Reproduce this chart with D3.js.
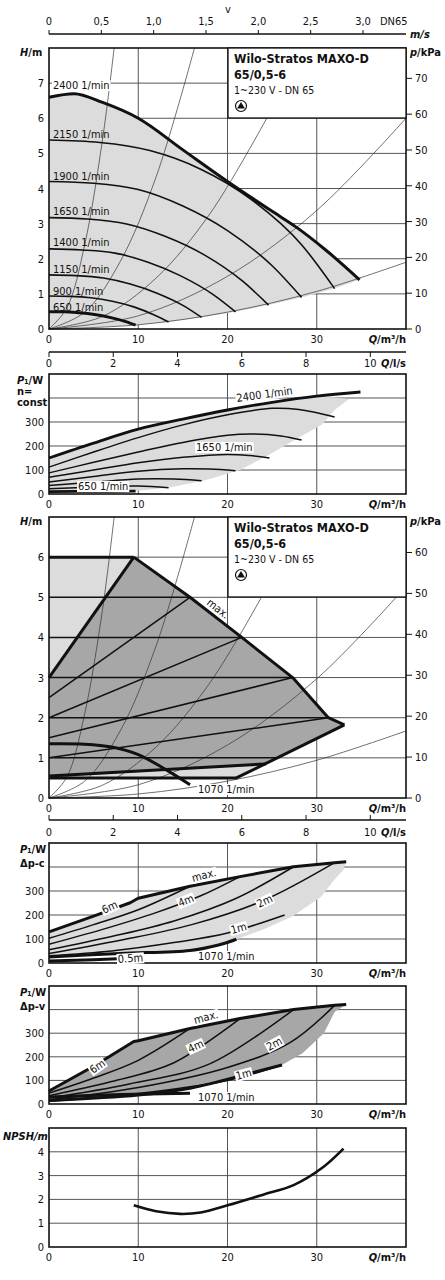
<!DOCTYPE html>
<html><head><meta charset="utf-8">
<script src="https://cdn.jsdelivr.net/npm/d3@7/dist/d3.min.js"></script>
<style>
body{margin:0;background:#fff}
text{font-family:"DejaVu Sans Condensed","Liberation Sans Narrow","Open Sans",sans-serif;font-size:11px;fill:#111}
.b{font-weight:bold}
</style></head><body>
<svg id="c" width="445" height="1280"></svg>
<script>
// ---- data ----
var qTicks = [0, 10, 20, 30];
var vTicks = ["0", "0,5", "1,0", "1,5", "2,0", "2,5", "3,0"];
var lsTicks = [0, 2, 4, 6, 8, 10];

// panel 1: H over Q per speed
var speedLabels = ["2400 1/min", "2150 1/min", "1900 1/min", "1650 1/min", "1400 1/min", "1150 1/min", "900 1/min", "650 1/min"];
var hCurves = [
  [[0,6.6],[2.8,6.7],[6,6.45],[10,6.0],[15,5.1],[20,4.2],[25,3.35],[27.7,2.9],[31,2.25],[34.8,1.4]],
  [[0,5.38],[5.7,5.31],[11.3,5.08],[17,4.55],[22.6,3.7],[28.3,2.4],[32.0,1.15]],
  [[0,4.2],[5,4.15],[10,3.97],[15,3.5],[20,2.8],[25,1.8],[28.3,0.9]],
  [[0,3.17],[4.3,3.13],[8.7,2.99],[13,2.64],[17.4,2.11],[21.7,1.36],[24.6,0.68]],
  [[0,2.28],[3.7,2.25],[7.4,2.16],[11.1,1.9],[14.7,1.52],[18.4,0.98],[20.9,0.49]],
  [[0,1.54],[3,1.52],[6.1,1.45],[9.1,1.28],[12.1,1.02],[15.1,0.66],[17.1,0.33]],
  [[0,0.94],[2.4,0.93],[4.7,0.89],[7.1,0.79],[9.5,0.63],[11.8,0.4],[13.4,0.2]],
  [[0,0.49],[1.7,0.49],[3.4,0.46],[5.1,0.41],[6.8,0.33],[8.6,0.21],[9.7,0.11]]
];
var hLowerEdge = [[0,0],[9.7,0.11],[13.4,0.2],[17.1,0.33],[20.9,0.49],[24.6,0.68],[28.3,0.9],[32,1.15],[34.8,1.4]];
var sys1 = [
  [[0,0],[2,0.6],[4,2.4],[6,5.4],[7.3,8]],
  [[0,0],[4,0.48],[8,1.93],[12,4.33],[16.3,8]],
  [[0,0],[6,0.36],[12,1.45],[18,3.27],[24.4,6]],
  [[0,0],[10,0.375],[20,1.5],[30,3.375],[40,6]],
  [[0,0],[10,0.12],[20,0.48],[30,1.07],[40,1.9]]
];

// panel 2: P1 at n = const
var pCurves = [
  [[0,150],[5,212],[10,270],[15,312],[20,350],[25,382],[30,408],[34.9,425]],
  [[0,112],[5,175],[10,235],[15,288],[20,330],[25,357],[28,352],[32,321]],
  [[0,88],[5,132],[10,175],[15,215],[20,245],[23,250],[26,242],[28.3,225]],
  [[0,70],[5,100],[10,130],[15,153],[20,165],[22.5,160],[24.7,150]],
  [[0,50],[5,73],[10,95],[15,105],[18,104],[20.9,97]],
  [[0,35],[5,49],[10,62],[14,62],[17.1,55]],
  [[0,22],[5,29],[10,33],[13.4,26]],
  [[0,10],[5,11],[9.7,12]]
];
var pFillEdge = [[33.6,396],[32,350],[30.6,290],[28,235],[24.5,160],[21.4,100],[17.3,55],[13.5,27],[9.7,12],[0,5]];

// panel 3: control modes
var ctrlDark = [[0,3],[9.5,6],[15.8,5],[21.6,4],[27.3,3],[31.3,2],[33.1,1.82],[24.3,0.85],[0,0.5]];
var ctrlLightA = [[0,6],[9.5,6],[0,3]];
var ctrlLightB = [[0,0.5],[21,0.5],[24.3,0.85]];
var maxLine = [[9.5,6],[15.8,5],[21.6,4],[27.3,3],[31.3,2],[33.1,1.82]];
var dpvLines = [[[0,2.5],[15.8,5]],[[0,2],[21.6,4]],[[0,1.5],[27.3,3]],[[0,1],[31.3,2]]];
var dpcLines = [[[0,5],[15.8,5]],[[0,4],[21.6,4]],[[0,3],[27.3,3]],[[0,2],[31.3,2]],[[0,1],[25.7,1]]];
var ctrlThick = [[[0,6],[9.5,6]],[[0,3],[9.5,6]],[[0,0.5],[21,0.5],[33.1,1.82]],[[0,0.55],[24.3,0.85]]];
var curve1070 = [[0,1.35],[4,1.34],[7,1.27],[10,1.08],[13,0.72],[15.8,0.33]];
var sys3 = [
  [[0,0],[2,0.52],[4,2.1],[6,4.7],[7.3,7]],
  [[0,0],[4,0.42],[8,1.68],[12,3.79],[16.3,7]],
  [[0,0],[6,0.32],[12,1.27],[18,2.86],[23.8,5]],
  [[0,0],[10,0.33],[20,1.32],[30,2.97],[38.9,5]],
  [[0,0],[10,0.1],[20,0.42],[30,0.94],[40,1.67]]
];

// panel 4: P1 at dp-c
var dpcMax = [[0,130],[5,195],[9.1,251],[10,270],[15.8,320],[21.4,360],[27.4,401],[32,418],[33.3,422]];
var dpcFillEdge = [[33,389],[31.8,340],[30.5,276],[27.2,193],[24,140],[21,99],[17,55],[10,42],[0,25]];
var dpcSet = [
  [[0,103],[5,160],[10,222],[15.8,320]],
  [[0,78],[6,140],[12,210],[17,280],[21.4,360]],
  [[0,55],[7,110],[14,175],[21,270],[27.4,401]],
  [[0,40],[8,95],[16,160],[24,260],[32,418]],
  [[0,30],[7,50],[14,85],[20,125],[26.4,200]]
];
var dpcThick = [[[0,25],[8,40],[15.8,52],[19,75],[21,99]],[[0,8],[5,14],[10,22]]];

// panel 5: P1 at dp-v
var dpvMax = [[0,55],[5,160],[9.5,265],[10,268],[15.8,320],[21.4,362],[27.4,400],[32,418],[33.3,422]];
var dpvFillEdge = [[32,390],[30.8,300],[28.4,215],[26.1,165],[21,115],[15.8,67],[10,38],[0,15]];
var dpvSet = [
  [[0,46],[5,110],[10,185],[15.8,320]],
  [[0,35],[7,95],[14,175],[21.4,362]],
  [[0,25],[9,85],[18,170],[27.4,400]],
  [[0,18],[10,70],[20,155],[27,260],[32,418]],
  [[0,12],[10,45],[20,100],[26.1,165]]
];
var dpvThick = [[[21,115],[26.1,165]],[[0,30],[8,40],[15.8,46]],[[0,15],[10,38],[15.8,67],[21,115]]];

// panel 6: NPSH
var npsh = [[9.5,1.75],[12,1.5],[14.7,1.39],[17,1.45],[20,1.75],[24,2.2],[27.4,2.6],[30.7,3.35],[33,4.13]];

// ---- drawing ----
var svg = d3.select("#c");
var x = d3.scaleLinear().domain([0, 40]).range([49, 406]);
var LIGHT = "#dcdcdc", DARK = "#a7a7a7";

function panel(top, bottom, ymax, yticks, gridY) {
  var y = d3.scaleLinear().domain([0, ymax]).range([bottom, top]);
  var g = svg.append("g");
  var marks = svg.append("g");
  var over = svg.append("g");
  g.selectAll(".gx").data([10, 20, 30]).enter().append("line")
    .attr("x1", x).attr("x2", x).attr("y1", top).attr("y2", bottom)
    .attr("stroke", "#555").attr("stroke-width", 1);
  g.selectAll(".gy").data(gridY).enter().append("line")
    .attr("x1", x(0)).attr("x2", x(40)).attr("y1", y).attr("y2", y)
    .attr("stroke", "#555").attr("stroke-width", 1);
  over.append("rect").attr("x", x(0)).attr("y", top).attr("width", x(40) - x(0)).attr("height", bottom - top)
    .attr("fill", "none").attr("stroke", "#111").attr("stroke-width", 1.6);
  over.selectAll(".ty").data(yticks).enter().append("text")
    .attr("x", 44).attr("y", function(d) { return y(d) + 4; }).attr("text-anchor", "end").text(function(d) { return d; });
  over.selectAll(".tx").data(qTicks).enter().append("text")
    .attr("x", x).attr("y", bottom + 14).attr("text-anchor", "middle").text(function(d) { return d; });
  over.append("text").attr("x", 406).attr("y", bottom + 14).attr("text-anchor", "end").attr("class", "b")
    .html('<tspan font-style="italic">Q</tspan>/m³/h');
  return { y: y, grid: g, marks: marks, over: over };
}

function path(p, pts, curve, w, fill) {
  var ln = d3.line().x(function(d) { return x(d[0]); }).y(function(d) { return p.y(d[1]); })
    .curve(curve || d3.curveLinear);
  return p.marks.append("path").attr("d", ln(pts)).attr("fill", fill || "none")
    .attr("stroke", fill ? "none" : "#111").attr("stroke-width", w || 1.3).attr("stroke-linejoin", "round");
}

function label(p, tx, px, py, rot, bg) {
  var t = p.over.append("text").attr("x", px).attr("y", py).text(tx);
  if (rot) t.attr("transform", "rotate(" + rot + "," + px + "," + py + ")");
  if (bg) {
    var bb = t.node().getBBox();
    p.over.insert("rect", function() { return t.node(); })
      .attr("x", bb.x - 1).attr("y", bb.y + 1).attr("width", bb.width + 2).attr("height", bb.height - 2)
      .attr("fill", "#fff").attr("transform", t.attr("transform"));
  }
  return t;
}

function rightAxis(p, top, ticks) {
  var k = d3.scaleLinear().domain([0, p.y.domain()[1] * 9.81]).range(p.y.range());
  ticks.forEach(function(d) {
    p.over.append("line").attr("x1", 406).attr("x2", 412).attr("y1", k(d)).attr("y2", k(d)).attr("stroke", "#111");
    p.over.append("text").attr("x", 415).attr("y", k(d) + 4).text(d);
  });
  p.over.append("text").attr("x", 410).attr("y", top + 8).attr("class", "b")
    .html('<tspan font-style="italic">p</tspan>/kPa');
}

function infoBox(p, top, bottom) {
  p.over.append("rect").attr("x", 228).attr("y", top).attr("width", 178).attr("height", bottom - top)
    .attr("fill", "#fff").attr("stroke", "#111").attr("stroke-width", 1.3);
  p.over.append("text").attr("x", 234).attr("y", top + 15).attr("class", "b").style("font-size", "12.5px").text("Wilo-Stratos MAXO-D");
  p.over.append("text").attr("x", 234).attr("y", top + 31).attr("class", "b").style("font-size", "12.5px").text("65/0,5-6");
  p.over.append("text").attr("x", 234).attr("y", top + 46).style("font-size", "10.5px").text("1~230 V - DN 65");
  var cx = 241, cy = top + 58;
  p.over.append("circle").attr("cx", cx).attr("cy", cy).attr("r", 5.5).attr("fill", "#fff").attr("stroke", "#111").attr("stroke-width", 1.2);
  p.over.append("path").attr("d", "M" + (cx - 4) + "," + (cy + 2.5) + "L" + cx + "," + (cy - 4) + "L" + (cx + 4) + "," + (cy + 2.5) + "Z").attr("fill", "#111");
}

function qAxisTop(yy, ticks, scale, tickDir, labelY) {
  svg.append("line").attr("x1", 49).attr("x2", 406).attr("y1", yy).attr("y2", yy).attr("stroke", "#111").attr("stroke-width", 1.3);
  ticks.forEach(function(d, i) {
    var px = scale(i);
    svg.append("line").attr("x1", px).attr("x2", px).attr("y1", yy).attr("y2", yy + tickDir).attr("stroke", "#111");
    svg.append("text").attr("x", px).attr("y", labelY).attr("text-anchor", "middle").text(d);
  });
}

// top velocity axis
var vScale = d3.scaleLinear().domain([0, 3]).range([49, 363]);
qAxisTop(34, vTicks, function(i) { return vScale(i * 0.5); }, -4, 25);
svg.append("text").attr("x", 228).attr("y", 13).attr("text-anchor", "middle").text("v");
svg.append("text").attr("x", 380).attr("y", 25).text("DN65");
svg.append("text").attr("x", 410).attr("y", 38).attr("class", "b").attr("font-style", "italic").text("m/s");

// ---- panel 1 ----
var p1 = panel(48, 329, 8, [0, 1, 2, 3, 4, 5, 6, 7], [1, 2, 3, 4, 5, 6, 7]);
path(p1, hCurves[0].concat(hLowerEdge.slice().reverse()), d3.curveLinear, 0, LIGHT);
p1.grid.raise();
sys1.forEach(function(c) { path(p1, c, d3.curveCatmullRom, 0.7).attr("stroke", "#333"); });
hCurves.forEach(function(c, i) {
  path(p1, c, d3.curveMonotoneX, (i === 0 || i === 7) ? 3 : 1.6);
});
p1.marks.raise(); p1.over.raise();
var lblY1 = [89, 138, 180, 215, 246, 273, 295, 311];
speedLabels.forEach(function(s, i) { label(p1, s, 53, lblY1[i], 0, i === 0); });
rightAxis(p1, 48, [0, 10, 20, 30, 40, 50, 60, 70]);
infoBox(p1, 48, 118);
p1.over.append("text").attr("x", 20).attr("y", 56).attr("class", "b")
  .html('<tspan font-style="italic">H</tspan>/m');

// l/s axis
var lsScale = function(i) { return x(lsTicks[i] * 3.6); };
qAxisTop(352, lsTicks, lsScale, 5, 367);
svg.append("text").attr("x", 406).attr("y", 367).attr("text-anchor", "end").attr("class", "b")
  .html('<tspan font-style="italic">Q</tspan>/l/s');

// ---- panel 2 ----
var p2 = panel(374, 494, 500, [0, 100, 200, 300], [100, 200, 300, 400]);
path(p2, pCurves[0].slice(0, 7).concat(pFillEdge), d3.curveLinear, 0, LIGHT);
p2.grid.raise();
pCurves.forEach(function(c, i) {
  path(p2, c, d3.curveCatmullRom, (i === 0 || i === 7) ? 2.8 : 1.5);
});
p2.marks.raise(); p2.over.raise();
label(p2, "2400 1/min", 237, 402, -8, true);
label(p2, "1650 1/min", 196, 451, 0, true);
label(p2, "650 1/min", 78, 490, 0, true);
p2.over.append("text").attr("x", 17).attr("y", 384).attr("class", "b").html('<tspan font-style="italic">P</tspan>₁/W');
p2.over.append("text").attr("x", 17).attr("y", 395).attr("class", "b").text("n=");
p2.over.append("text").attr("x", 17).attr("y", 406).attr("class", "b").text("const");

// ---- panel 3 ----
var p3 = panel(517, 798, 7, [0, 1, 2, 3, 4, 5, 6], [1, 2, 3, 4, 5, 6]);
path(p3, ctrlLightA, d3.curveLinear, 0, LIGHT);
path(p3, ctrlLightB, d3.curveLinear, 0, LIGHT);
path(p3, ctrlDark, d3.curveLinear, 0, DARK);
p3.grid.raise();
sys3.forEach(function(c) { path(p3, c, d3.curveCatmullRom, 0.7).attr("stroke", "#333"); });
dpvLines.forEach(function(c) { path(p3, c, d3.curveLinear, 1.5); });
dpcLines.forEach(function(c) { path(p3, c, d3.curveLinear, 1.5); });
ctrlThick.forEach(function(c) { path(p3, c, d3.curveLinear, 3); });
path(p3, maxLine, d3.curveLinear, 3);
path(p3, curve1070, d3.curveCatmullRom, 3);
p3.marks.raise(); p3.over.raise();
label(p3, "max.", 206, 604, 38, false);
label(p3, "1070 1/min", 198, 793, 0, true);
rightAxis(p3, 517, [0, 10, 20, 30, 40, 50, 60]);
infoBox(p3, 517, 597);
p3.over.append("text").attr("x", 20).attr("y", 525).attr("class", "b")
  .html('<tspan font-style="italic">H</tspan>/m');

qAxisTop(820, lsTicks, lsScale, -5, 836);
svg.append("text").attr("x", 406).attr("y", 836).attr("text-anchor", "end").attr("class", "b")
  .html('<tspan font-style="italic">Q</tspan>/l/s');

// ---- panel 4 ----
var p4 = panel(843, 963, 500, [0, 100, 200, 300], [100, 200, 300, 400]);
path(p4, dpcMax.concat(dpcFillEdge), d3.curveLinear, 0, LIGHT);
p4.grid.raise();
dpcSet.forEach(function(c) { path(p4, c, d3.curveCatmullRom, 1.5); });
dpcThick.forEach(function(c) { path(p4, c, d3.curveCatmullRom, 3); });
path(p4, dpcMax, d3.curveLinear, 3);
p4.marks.raise(); p4.over.raise();
label(p4, "max.", 193, 882, -15, true);
label(p4, "6m", 104, 914, -25, true);
label(p4, "4m", 180, 907, -22, true);
label(p4, "2m", 259, 908, -25, true);
label(p4, "1m", 232, 934, -15, true);
label(p4, "0.5m", 118, 963, -4, true);
label(p4, "1070 1/min", 198, 960, 0, true);
p4.over.append("text").attr("x", 20).attr("y", 853).attr("class", "b").html('<tspan font-style="italic">P</tspan>₁/W');
p4.over.append("text").attr("x", 20).attr("y", 867).attr("class", "b").text("Δp-c");

// ---- panel 5 ----
var p5 = panel(986, 1104, 500, [0, 100, 200, 300], [100, 200, 300, 400]);
path(p5, dpvMax.concat(dpvFillEdge), d3.curveLinear, 0, DARK);
p5.grid.raise();
dpvSet.forEach(function(c) { path(p5, c, d3.curveCatmullRom, 1.5); });
dpvThick.forEach(function(c) { path(p5, c, d3.curveCatmullRom, 3); });
path(p5, dpvMax, d3.curveLinear, 3);
p5.marks.raise(); p5.over.raise();
label(p5, "max.", 195, 1024, -15, true);
label(p5, "6m", 93, 1074, -35, true);
label(p5, "4m", 190, 1053, -25, true);
label(p5, "2m", 269, 1051, -28, true);
label(p5, "1m", 237, 1080, -15, true);
label(p5, "1070 1/min", 198, 1101, 0, true);
p5.over.append("text").attr("x", 20).attr("y", 996).attr("class", "b").html('<tspan font-style="italic">P</tspan>₁/W');
p5.over.append("text").attr("x", 20).attr("y", 1010).attr("class", "b").text("Δp-v");

// ---- panel 6 ----
var p6 = panel(1128, 1247, 5, [0, 1, 2, 3, 4], [1, 2, 3, 4]);
path(p6, npsh, d3.curveCatmullRom, 2.6);
p6.over.raise();
p6.over.append("text").attr("x", 3).attr("y", 1140).attr("class", "b").attr("font-style", "italic").text("NPSH/m");
</script>
</body></html>
